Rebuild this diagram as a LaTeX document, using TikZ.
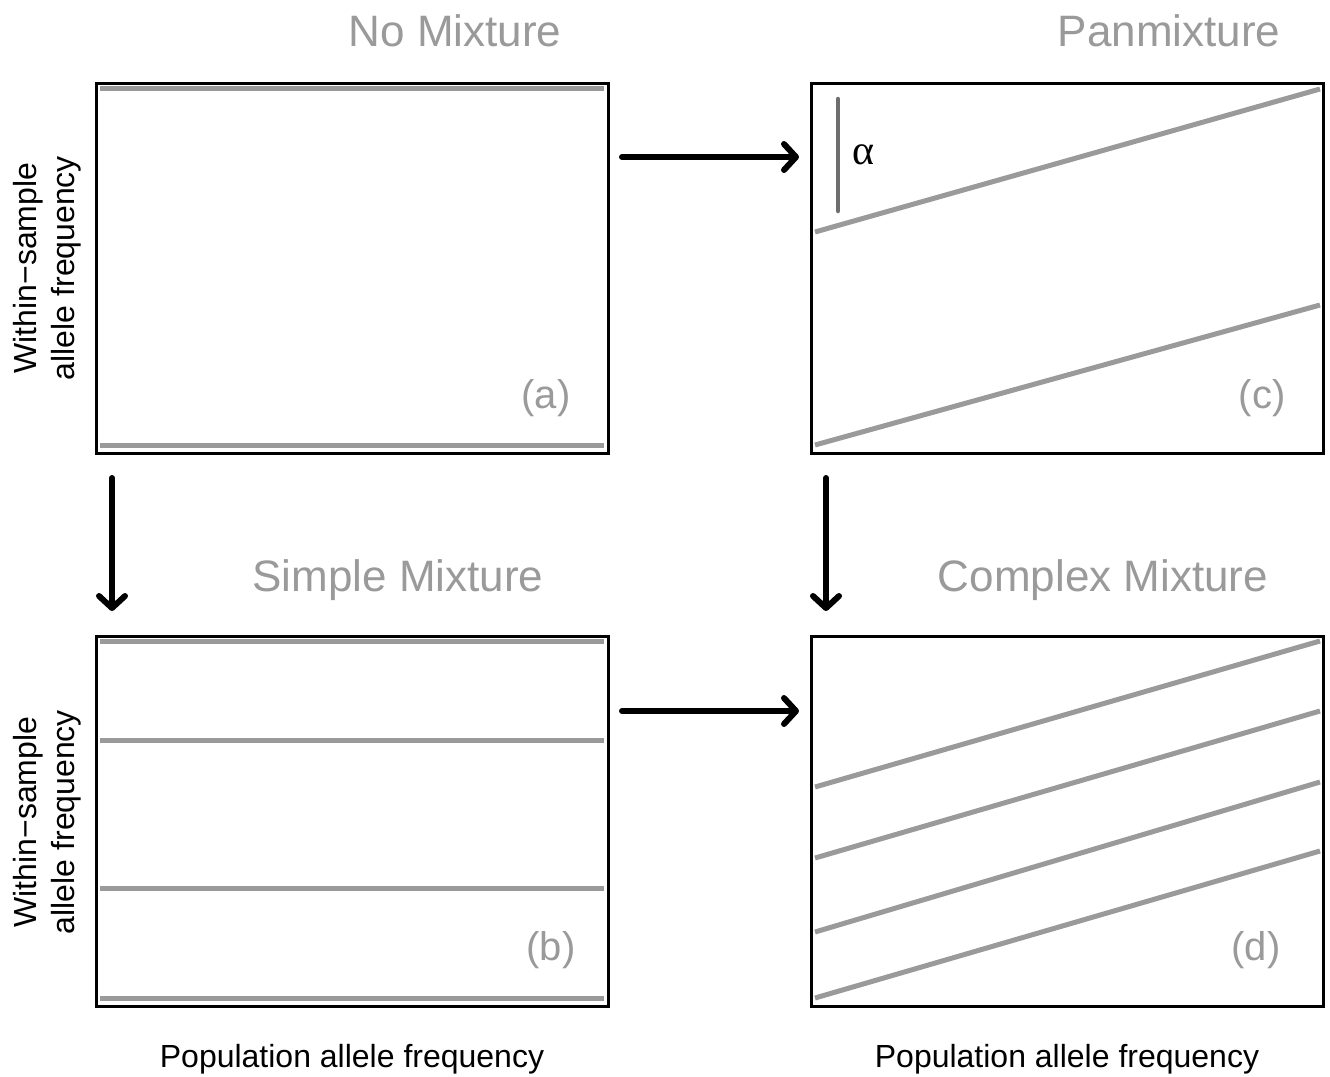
\documentclass[tikz,border=0pt]{standalone}
\usepackage{fontspec}
\setmainfont{Liberation Sans}
\newfontfamily\greekserif{Liberation Serif}
\usetikzlibrary{arrows.meta,calc}
\definecolor{lgray}{HTML}{9A9A9A}
\definecolor{dgray}{HTML}{6E6E6E}
\tikzset{
  panel/.style={draw=black,line width=3pt,minimum width=512pt,minimum height=370pt,inner sep=0pt,fill=none},
  trend/.style={draw=lgray,line width=5pt},
  flow/.style={draw=black,line width=6pt,line cap=round,-{Straight Barb[length=12pt,width=26pt,line cap=round,line join=round]}},
  ttl/.style={text=lgray,font=\fontsize{44}{44}\selectfont,inner sep=0pt},
  tag/.style={text=lgray,font=\fontsize{40}{40}\selectfont,inner sep=0pt},
  axl/.style={text=black,font=\fontsize{32}{32}\selectfont,inner sep=0pt},
}
\begin{document}
\begin{tikzpicture}[x=1pt,y=-1pt]
\useasboundingbox[fill=white] (0,0) rectangle (1330,1076);
% panels
\node[panel] (A) at (352,268) {};
\node[panel] (C) at (1067,268) {};
\node[panel] (B) at (352,821) {};
\node[panel] (D) at (1067,821) {};
% panel (a) lines
\draw[trend] (100,88) -- (604,88);
\draw[trend] (100,445) -- (604,445);
% panel (c) lines
\draw[trend] (815,232) -- (1320,89);
\draw[trend] (815,445) -- (1320,305);
\draw[draw=dgray,line width=4.5pt,line cap=round] (838,99) -- (838,211);
\node[inner sep=0pt,font=\greekserif\fontsize{42}{42}\selectfont] (alpha) at (863,155) {α};
% panel (b) lines
\draw[trend] (100,641) -- (604,641);
\draw[trend] (100,740) -- (604,740);
\draw[trend] (100,888) -- (604,888);
\draw[trend] (100,998) -- (604,998);
% panel (d) lines
\draw[trend] (815,787) -- (1320,641);
\draw[trend] (815,858) -- (1320,711);
\draw[trend] (815,932) -- (1320,782);
\draw[trend] (815,998) -- (1320,851);
% titles
\node[ttl] (t1) at (455,31) {No Mixture};
\node[ttl] (t2) at (1169,31) {Panmixture};
\node[ttl] (t3) at (398,580) {Simple Mixture};
\node[ttl] (t4) at (1103,580) {Complex Mixture};
% tags
\node[tag] (la) at (546,398) {(a)};
\node[tag] (lc) at (1262,398) {(c)};
\node[tag] (lb) at (551,950) {(b)};
\node[tag] (ld) at (1256,950) {(d)};
% axis labels
\node[axl,rotate=90] (ya1) at (28,268) {Within−sample};
\node[axl,rotate=90] (ya2) at (66,268) {allele frequency};
\node[axl,rotate=90] (yb1) at (28,822) {Within−sample};
\node[axl,rotate=90] (yb2) at (66,822) {allele frequency};
\node[axl] (xb) at (352,1059) {Population allele frequency};
\node[axl] (xd) at (1067,1059) {Population allele frequency};
% arrows
\coordinate (h1s) at (622,157); \coordinate (h1e) at (799,157);
\coordinate (h2s) at (622,711); \coordinate (h2e) at (799,711);
\coordinate (v1s) at (112,478); \coordinate (v1e) at (112,611);
\coordinate (v2s) at (826,478); \coordinate (v2e) at (826,611);
\draw[flow] (h1s) -- (h1e);
\draw[flow] (h2s) -- (h2e);
\draw[flow] (v1s) -- (v1e);
\draw[flow] (v2s) -- (v2e);
\end{tikzpicture}
\end{document}
